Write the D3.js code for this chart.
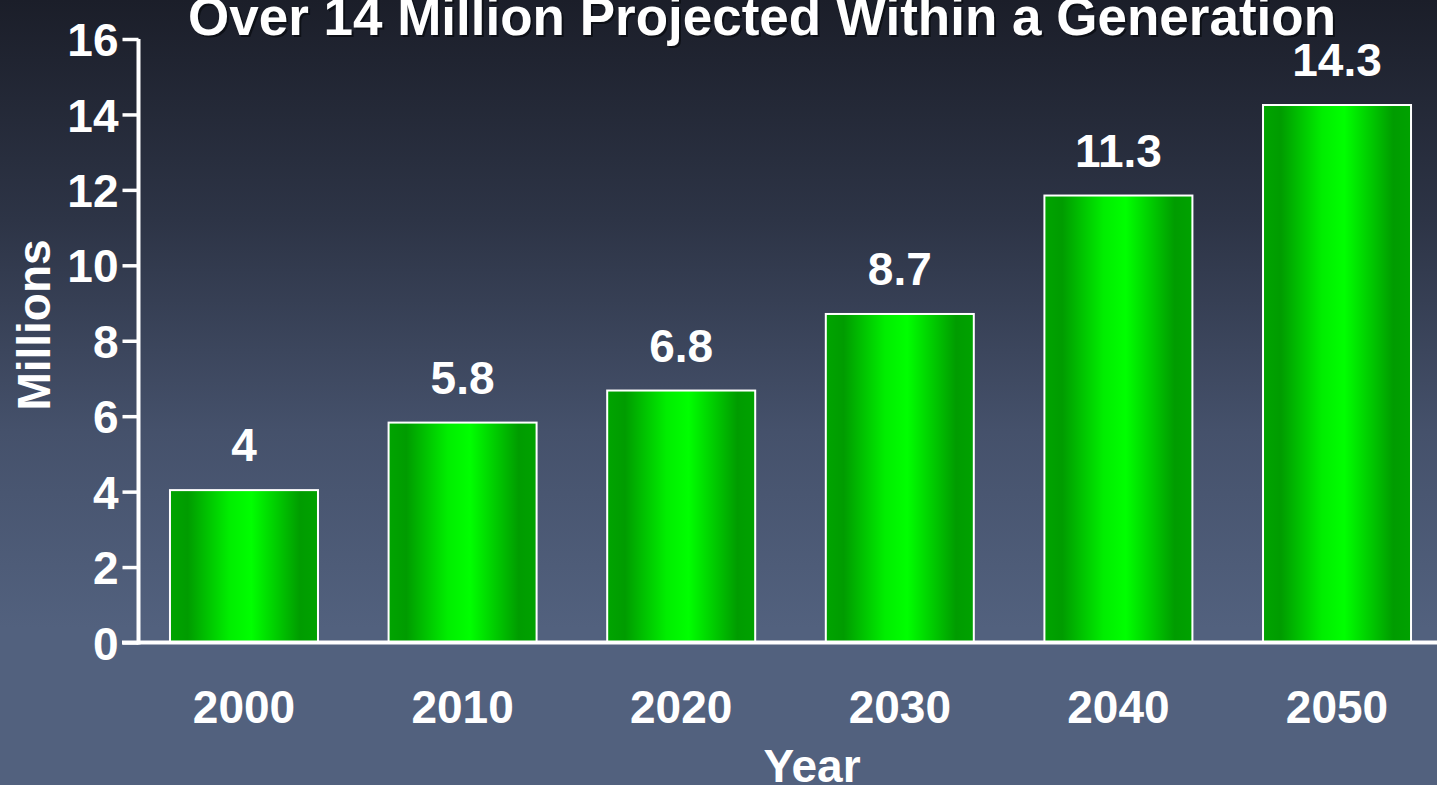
<!DOCTYPE html>
<html>
<head>
<meta charset="utf-8">
<script src="https://cdn.jsdelivr.net/npm/d3@7"></script>
<style>
  html, body { margin: 0; padding: 0; background: #52617e; overflow: hidden; }
  svg { display: block; font-family: "Liberation Sans", Arial, sans-serif; font-weight: bold; }
</style>
</head>
<body>
<svg id="chart"></svg>
<script>
const years = ['2000', '2010', '2020', '2030', '2040', '2050'];
const values = [4.04, 5.83, 6.68, 8.71, 11.85, 14.25];
const valueLabels = ['4', '5.8', '6.8', '8.7', '11.3', '14.3'];
const yTicks = [0, 2, 4, 6, 8, 10, 12, 14, 16];
const title = 'Over 14 Million Projected Within a Generation';

const width = 1437;
const height = 785;

const svg = d3.select('#chart')
  .attr('width', width)
  .attr('height', height);

const defs = svg.append('defs');

// background: dark navy at top fading to slate blue
const bg = defs.append('linearGradient')
  .attr('id', 'bg')
  .attr('x1', 0).attr('y1', 0).attr('x2', 0).attr('y2', 1);
bg.append('stop').attr('offset', '0%').attr('stop-color', '#1b1e29');
bg.append('stop').attr('offset', '28%').attr('stop-color', '#2d3446');
bg.append('stop').attr('offset', '55%').attr('stop-color', '#45516b');
bg.append('stop').attr('offset', '80%').attr('stop-color', '#52617e');
bg.append('stop').attr('offset', '100%').attr('stop-color', '#52617e');

// bars: dark green edges, bright green middle
const barGrad = defs.append('linearGradient')
  .attr('id', 'bar')
  .attr('x1', 0).attr('y1', 0).attr('x2', 1).attr('y2', 0);
barGrad.append('stop').attr('offset', '0%').attr('stop-color', '#00a400');
barGrad.append('stop').attr('offset', '12%').attr('stop-color', '#009c00');
barGrad.append('stop').attr('offset', '40%').attr('stop-color', '#00ee00');
barGrad.append('stop').attr('offset', '55%').attr('stop-color', '#00ff00');
barGrad.append('stop').attr('offset', '88%').attr('stop-color', '#009c00');
barGrad.append('stop').attr('offset', '100%').attr('stop-color', '#00a200');

svg.append('rect')
  .attr('width', width)
  .attr('height', height)
  .attr('fill', 'url(#bg)');

const x = d3.scaleBand()
  .domain(years)
  .range([138.5, 1442.5])
  .paddingInner(0.323)
  .paddingOuter(0.144);

const y = d3.scaleLinear()
  .domain([0, 16])
  .range([642.5, 39]);

// bars
svg.append('g')
  .selectAll('rect')
  .data(values)
  .join('rect')
  .attr('x', (d, i) => x(years[i]))
  .attr('y', d => y(d))
  .attr('width', x.bandwidth())
  .attr('height', d => y(0) - y(d))
  .attr('fill', 'url(#bar)')
  .attr('stroke', '#ffffff')
  .attr('stroke-width', 2);

// value labels above bars
svg.append('g')
  .selectAll('text')
  .data(valueLabels)
  .join('text')
  .attr('x', (d, i) => x(years[i]) + x.bandwidth() / 2)
  .attr('y', (d, i) => y(values[i]) - 29)
  .attr('text-anchor', 'middle')
  .attr('fill', '#ffffff')
  .attr('font-size', 46)
  .text(d => d);

// y axis
const yAxis = svg.append('g')
  .attr('transform', 'translate(138.5,0)')
  .call(d3.axisLeft(y).tickValues(yTicks).tickSize(16).tickPadding(4));
yAxis.select('.domain')
  .attr('d', `M0,${y(16)}V${y(0) + 2}`)
  .attr('stroke', '#ffffff')
  .attr('stroke-width', 4);
yAxis.selectAll('.tick line')
  .attr('stroke', '#ffffff')
  .attr('stroke-width', 3.5);
yAxis.selectAll('.tick text')
  .attr('fill', '#ffffff')
  .attr('font-size', 46)
  .attr('font-family', '"Liberation Sans", Arial, sans-serif')
  .attr('font-weight', 'bold')
  .attr('dy', '0.36em');

// x axis
const xAxis = svg.append('g')
  .attr('transform', `translate(0,${y(0)})`)
  .call(d3.axisBottom(x).tickSize(0).tickPadding(0));
xAxis.select('.domain')
  .attr('d', `M122,0H${width}`)
  .attr('stroke', '#ffffff')
  .attr('stroke-width', 4);
xAxis.selectAll('.tick text')
  .attr('fill', '#ffffff')
  .attr('font-size', 46)
  .attr('font-family', '"Liberation Sans", Arial, sans-serif')
  .attr('font-weight', 'bold')
  .attr('dy', null)
  .attr('y', 80);

// axis titles
svg.append('text')
  .attr('transform', 'translate(50,325) rotate(-90)')
  .attr('text-anchor', 'middle')
  .attr('fill', '#ffffff')
  .attr('font-size', 46)
  .text('Millions');

svg.append('text')
  .attr('x', 812)
  .attr('y', 782)
  .attr('text-anchor', 'middle')
  .attr('fill', '#ffffff')
  .attr('font-size', 46)
  .text('Year');

// chart title with drop shadow
svg.append('text')
  .attr('x', 764)
  .attr('y', 37)
  .attr('text-anchor', 'middle')
  .attr('fill', '#0a0c12')
  .attr('fill-opacity', 0.8)
  .attr('font-size', 53)
  .text(title);

svg.append('text')
  .attr('x', 762)
  .attr('y', 35)
  .attr('text-anchor', 'middle')
  .attr('fill', '#ffffff')
  .attr('font-size', 53)
  .text(title);
</script>
</body>
</html>
